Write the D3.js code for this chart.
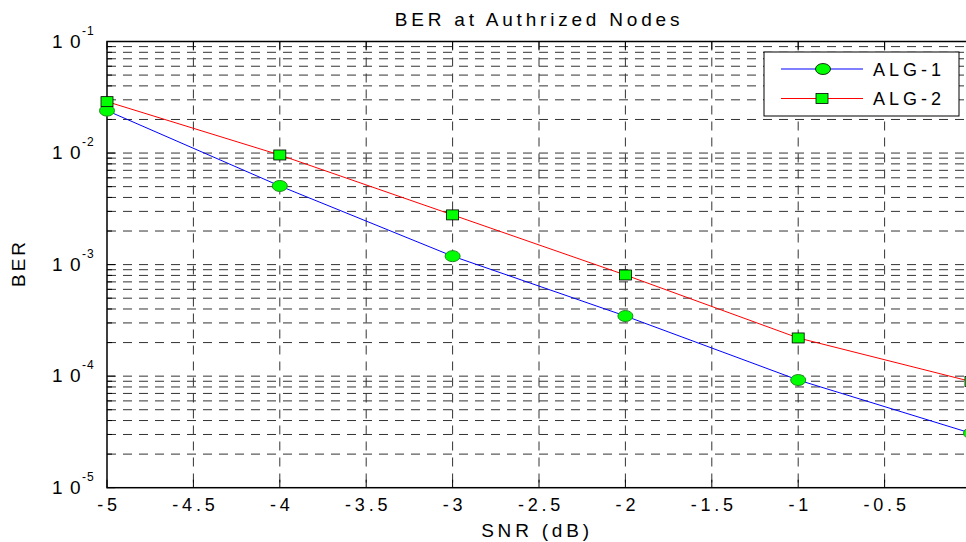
<!DOCTYPE html>
<html>
<head>
<meta charset="utf-8">
<script src="https://cdn.jsdelivr.net/npm/d3@7"></script>
<style>
    body { margin: 0; background: #fff; }
    text { font-family: "Liberation Sans", Arial, sans-serif; fill: #000; }
    .grid line { stroke: #333; stroke-width: 1; stroke-dasharray: 9,7; }
</style>
</head>
<body>
<div id="chart"></div>
<script>

// data
let snr = [-5, -4, -3, -2, -1, 0];
let alg1 = [0.0240, 0.00507, 0.00119, 0.000346, 0.0000923, 0.0000308];
let alg2 = [0.0289, 0.00961, 0.00279, 0.000807, 0.000220, 0.0000895];
let xTicks = [-5, -4.5, -4, -3.5, -3, -2.5, -2, -1.5, -1, -0.5, 0];
let yDecades = [-1, -2, -3, -4, -5];
let seriesNames = ["ALG-1", "ALG-2"];

let margin = {top: 41.5, left: 107};
let width = 864;      // plot goes past the right edge of the picture (x=0 is cut off)
let height = 446.2;

let svg = d3.select("#chart").append("svg")
    .attr("width", 966)
    .attr("height", 542);

let g = svg.append("g")
    .attr("transform", `translate(${margin.left}, ${margin.top})`);

let x = d3.scaleLinear()
    .domain([-5, 0])
    .range([0, width]);

let y = d3.scaleLog()
    .domain([1e-5, 1e-1])
    .range([height, 0]);

// minor + major horizontal grid values
let hGrid = [];
[-5, -4, -3, -2].forEach(k => {
    for (let m = 1; m <= 9; m++) {
        if (m === 1 && k === -5) continue;
        hGrid.push(m * Math.pow(10, k));
    }
});

let grid = g.append("g").attr("class", "grid");

grid.selectAll(".hg")
    .data(hGrid)
    .enter()
    .append("line")
    .attr("class", "hg")
    .attr("x1", 0)
    .attr("x2", width)
    .attr("y1", d => y(d))
    .attr("y2", d => y(d));

grid.selectAll(".vg")
    .data(xTicks.filter(d => d > -5 && d < 0))
    .enter()
    .append("line")
    .attr("class", "vg")
    .attr("x1", d => x(d))
    .attr("x2", d => x(d))
    .attr("y1", 0)
    .attr("y2", height);

// inner ticks (matlab style)
let ticks = g.append("g").attr("stroke", "#000").attr("stroke-width", 1);

ticks.selectAll(".ytick")
    .data(hGrid.concat([1e-1, 1e-5]))
    .enter()
    .append("line")
    .attr("x1", 0)
    .attr("x2", d => Math.abs(Math.log10(d) - Math.round(Math.log10(d))) < 1e-9 ? 8 : 5)
    .attr("y1", d => y(d))
    .attr("y2", d => y(d));

ticks.selectAll(".xtickb")
    .data(xTicks)
    .enter()
    .append("line")
    .attr("x1", d => x(d))
    .attr("x2", d => x(d))
    .attr("y1", height)
    .attr("y2", height - 8);

ticks.selectAll(".xtickt")
    .data(xTicks)
    .enter()
    .append("line")
    .attr("x1", d => x(d))
    .attr("x2", d => x(d))
    .attr("y1", 0)
    .attr("y2", 8);

// axes box
g.append("rect")
    .attr("x", 0)
    .attr("y", 0)
    .attr("width", width)
    .attr("height", height)
    .attr("fill", "none")
    .attr("stroke", "#000")
    .attr("stroke-width", 1.5);

// x tick labels
g.selectAll(".xLabel")
    .data(xTicks)
    .enter()
    .append("text")
    .attr("class", "xLabel")
    .attr("x", d => x(d) + 2)
    .attr("y", height + 23)
    .attr("text-anchor", "middle")
    .style("font-size", "18px")
    .style("letter-spacing", "3.8px")
    .text(d => d);

// y tick labels: "1" "0" drawn apart, then the exponent
let yLab = g.selectAll(".yLabel")
    .data(yDecades)
    .enter()
    .append("g")
    .attr("class", "yLabel")
    .attr("transform", d => `translate(0, ${y(Math.pow(10, d))})`);

yLab.append("text")
    .attr("x", -55)
    .attr("y", 6)
    .style("font-size", "19px")
    .text("1");

yLab.append("text")
    .attr("x", -37)
    .attr("y", 6)
    .style("font-size", "19px")
    .text("0");

yLab.append("text")
    .attr("x", -25)
    .attr("y", -7)
    .style("font-size", "12px")
    .style("letter-spacing", "1px")
    .text(d => d);

// lines
let line = d3.line()
    .x((d, i) => x(snr[i]))
    .y(d => y(d));

g.append("path")
    .datum(alg1)
    .attr("d", line)
    .attr("fill", "none")
    .attr("stroke", "#0000ff")
    .attr("stroke-width", 1);

g.append("path")
    .datum(alg2)
    .attr("d", line)
    .attr("fill", "none")
    .attr("stroke", "#ff0000")
    .attr("stroke-width", 1);

// markers
g.selectAll(".m1")
    .data(alg1)
    .enter()
    .append("ellipse")
    .attr("class", "m1")
    .attr("cx", (d, i) => x(snr[i]))
    .attr("cy", d => y(d))
    .attr("rx", 7.5)
    .attr("ry", 5.5)
    .attr("fill", "#00ff00")
    .attr("stroke", "#1e8c1e")
    .attr("stroke-width", 1);

g.selectAll(".m2")
    .data(alg2)
    .enter()
    .append("rect")
    .attr("class", "m2")
    .attr("x", (d, i) => x(snr[i]) - 6)
    .attr("y", d => y(d) - 5)
    .attr("width", 12)
    .attr("height", 10)
    .attr("fill", "#00ff00")
    .attr("stroke", "#000")
    .attr("stroke-width", 0.8);

// title and axis labels
svg.append("text")
    .attr("x", 539)
    .attr("y", 26)
    .attr("text-anchor", "middle")
    .style("font-size", "19px")
    .style("letter-spacing", "3.8px")
    .text("BER at Authrized Nodes");

svg.append("text")
    .attr("x", 537)
    .attr("y", 537)
    .attr("text-anchor", "middle")
    .style("font-size", "19px")
    .style("letter-spacing", "3.8px")
    .text("SNR (dB)");

svg.append("text")
    .attr("transform", "translate(25, 263) rotate(-90)")
    .attr("text-anchor", "middle")
    .style("font-size", "19px")
    .style("letter-spacing", "3px")
    .text("BER");

// legend
let legend = svg.append("g").attr("transform", "translate(764, 52)");

legend.append("rect")
    .attr("x", 0)
    .attr("y", 0)
    .attr("width", 195)
    .attr("height", 64)
    .attr("fill", "#fff")
    .attr("stroke", "#000")
    .attr("stroke-width", 1);

let legRows = legend.selectAll(".legRow")
    .data(seriesNames)
    .enter()
    .append("g")
    .attr("class", "legRow")
    .attr("transform", (d, i) => `translate(0, ${17 + i * 29.5})`);

legRows.append("line")
    .attr("x1", 17)
    .attr("x2", 99)
    .attr("y1", 0)
    .attr("y2", 0)
    .attr("stroke", (d, i) => i === 0 ? "#0000ff" : "#ff0000")
    .attr("stroke-width", 1);

legRows.filter((d, i) => i === 0)
    .append("ellipse")
    .attr("cx", 59)
    .attr("cy", 0)
    .attr("rx", 7.5)
    .attr("ry", 5.5)
    .attr("fill", "#00ff00")
    .attr("stroke", "#000")
    .attr("stroke-width", 0.8);

legRows.filter((d, i) => i === 1)
    .append("rect")
    .attr("x", 52)
    .attr("y", -5)
    .attr("width", 12)
    .attr("height", 10)
    .attr("fill", "#00ff00")
    .attr("stroke", "#000")
    .attr("stroke-width", 0.8);

legRows.append("text")
    .attr("x", 109)
    .attr("y", 6.5)
    .style("font-size", "18px")
    .style("letter-spacing", "4px")
    .text(d => d);

</script>
</body>
</html>
